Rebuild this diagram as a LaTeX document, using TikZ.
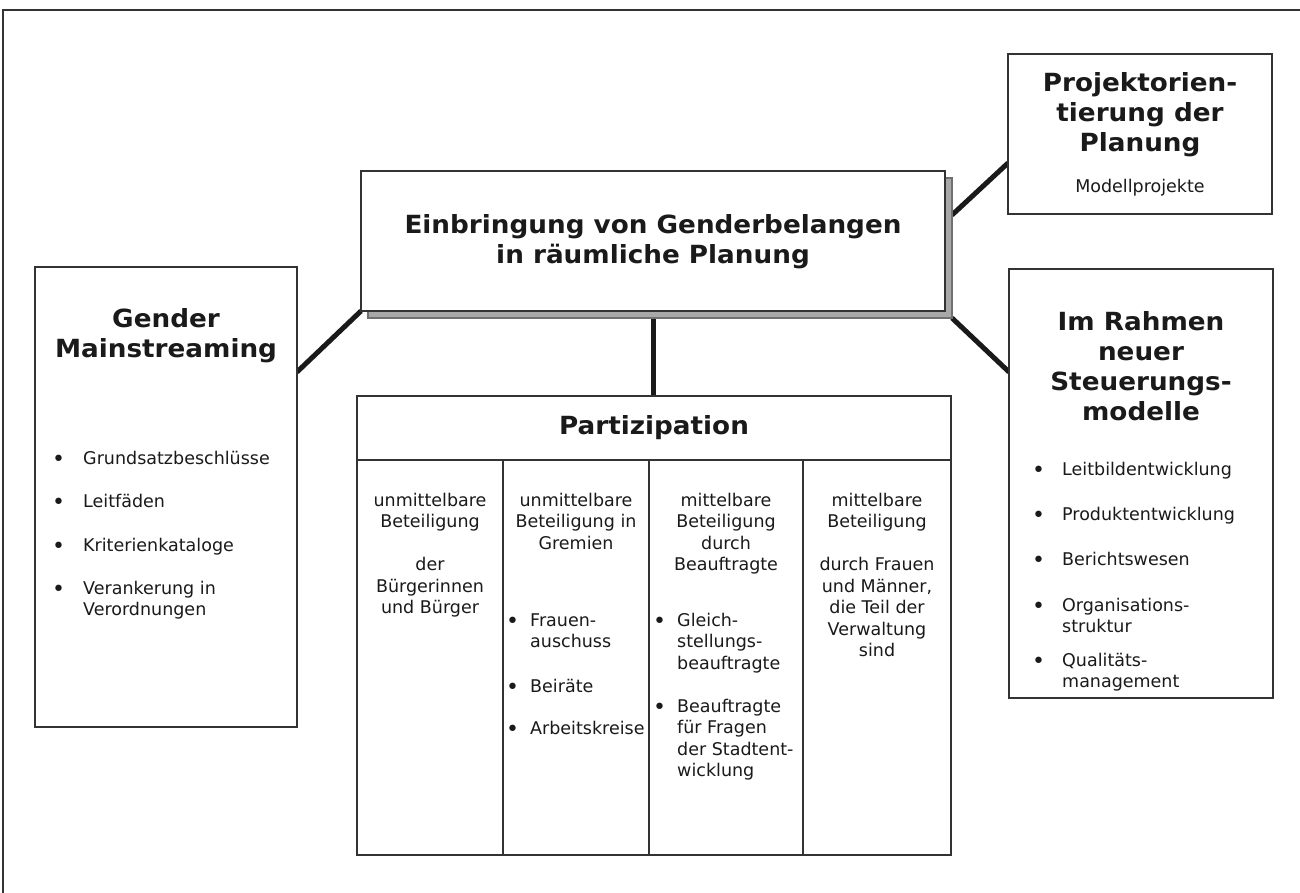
\documentclass[tikz,border=0pt]{standalone}
\usepackage{fontspec}
\setmainfont{DejaVu Sans}
\newfontfamily\headfamily{DejaVu Sans Bold}[FakeStretch=1.05]
\usetikzlibrary{positioning}

\definecolor{ink}{HTML}{1A1A1A}
\definecolor{rule}{HTML}{333333}
\definecolor{shade}{HTML}{A8A8A8}

\pgfdeclarelayer{back}
\pgfsetlayers{back,main}

\newcommand{\bodyfont}{\fontsize{17.5}{21.5}\selectfont}
\newcommand{\headfont}{\headfamily\fontsize{25}{30}\selectfont}
\newcommand{\bul}[1]{\llap{\raisebox{-2.5pt}{\fontsize{22}{22}\selectfont•}\hspace{#1}}}

% multi-line nodes sit on the baseline of their last line
\tikzset{
    box/.style={draw=rule, line width=1.5pt, fill=white, inner sep=0pt, outer sep=0pt, anchor=north west},
    link/.style={draw=ink, line width=5pt},
    head/.style={font=\headfont, text=ink, align=center, inner sep=0pt, anchor=base},
    body/.style={font=\bodyfont, text=ink, align=center, inner sep=0pt, anchor=base},
    item/.style={font=\bodyfont, text=ink, align=left, inner sep=0pt, anchor=base west},
}

\begin{document}
\begin{tikzpicture}[x=1pt, y=-1pt]
    \useasboundingbox (0,0) rectangle (1300,893);
    % frame (top and left edge only)
    \draw[rule, line width=1.5pt] (1300,10) -- (3,10) -- (3,893);

    % central box with shadow
    \node[box, draw=rule!70, fill=shade, minimum width=584pt, minimum height=140pt] (shadow) at (368,178) {};
    \node[box, minimum width=584pt, minimum height=140pt] (main) at (361,171) {};
    \node[head] (maintxt) at (653,263) {Einbringung von Genderbelangen\\in räumliche Planung};

    % outer boxes
    \node[box, minimum width=264pt, minimum height=160pt] (proj) at (1008,54) {};
    \node[head] (projtxt) at (1140,152) {Projektorien-\\tierung der\\Planung};
    \node[body] (projsub) at (1140,193) {Modellprojekte};

    \node[box, minimum width=262pt, minimum height=460pt] (gender) at (35,267) {};
    \node[head] (gendertxt) at (166,357) {Gender\\Mainstreaming};
    \foreach \y/\txt in {464/Grundsatzbeschlüsse, 507/Leitfäden, 551/Kriterienkataloge,
                         615.5/{Verankerung in\\Verordnungen}}
        \node[item] (gm-\y) at (83,\y) {\bul{18pt}\txt};

    \node[box, minimum width=264pt, minimum height=429pt] (steuer) at (1009,269) {};
    \node[head] (steuertxt) at (1141,420) {Im Rahmen\\neuer\\Steuerungs-\\modelle};
    \foreach \y/\txt in {475/Leitbildentwicklung, 520/Produktentwicklung, 565/Berichtswesen,
                         632.5/{Organisations-\\struktur}, 687.5/{Qualitäts-\\management}}
        \node[item] (sm-\y) at (1062,\y) {\bul{17pt}\txt};

    % participation table
    \node[box, minimum width=594pt, minimum height=64pt] (part) at (357,396) {};
    \node[head] (parttxt) at (654,434) {Partizipation};
    \node[box, minimum width=146pt, minimum height=395pt] (col1) at (357,460) {};
    \node[box, minimum width=146pt, minimum height=395pt] (col2) at (503,460) {};
    \node[box, minimum width=154pt, minimum height=395pt] (col3) at (649,460) {};
    \node[box, minimum width=148pt, minimum height=395pt] (col4) at (803,460) {};

    \node[body] (col1txt) at (430,613.5) {unmittelbare\\Beteiligung\\[21.5pt]der\\Bürgerinnen\\und Bürger};
    \node[body] (col2txt) at (576,549) {unmittelbare\\Beteiligung in\\Gremien};
    \node[body] (col3txt) at (726,570.5) {mittelbare\\Beteiligung\\durch\\Beauftragte};
    \node[body] (col4txt) at (877,656.5) {mittelbare\\Beteiligung\\[21.5pt]durch Frauen\\und Männer,\\die Teil der\\Verwaltung\\sind};

    \foreach \y/\txt in {647.5/{Frauen-\\auschuss}, 692/Beiräte, 734/Arbeitskreise}
        \node[item] (pa-\y) at (530,\y) {\bul{11pt}\txt};
    \foreach \y/\txt in {669/{Gleich-\\stellungs-\\beauftragte}, 776.5/{Beauftragte\\für Fragen\\der Stadtent-\\wicklung}}
        \node[item] (pb-\y) at (677,\y) {\bul{11pt}\txt};

    % connectors
    \begin{pgfonlayer}{back}
        \draw[link] (main.south west) -- ([yshift=-105pt]gender.north east);
        \draw[link] ([yshift=-37pt]shadow.north east) -- ([yshift=51pt]proj.south west);
        \draw[link] (shadow.south east) -- ([yshift=-103pt]steuer.north west);
        \draw[link] (main.south) -- (main.south |- part.north);
    \end{pgfonlayer}
\end{tikzpicture}
\end{document}
